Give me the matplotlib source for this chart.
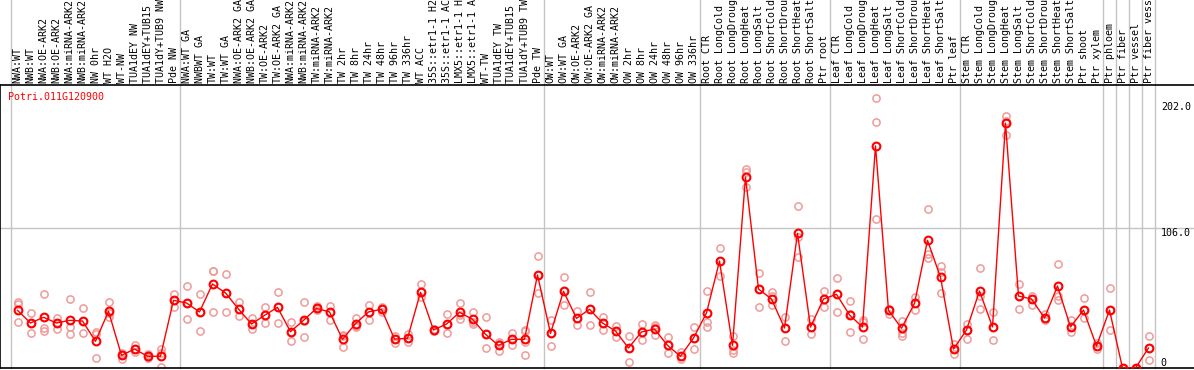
import matplotlib
matplotlib.use('Agg')
import matplotlib.pyplot as plt

gene = 'Potri.011G120900'

labels = ['NWA:WT', 'NWB:WT', 'NWA:OE-ARK2', 'NWB:OE-ARK2', 'NWA:miRNA-ARK2', 'NWB:miRNA-ARK2',
          'NW 0hr', 'WT H2O', 'WT-NW', 'TUA1dEY NW', 'TUA1dEY+TUB15 ', 'TUA1dY+TUB9 NW', 'Pde NW',
          'NWA:WT GA', 'NWBWT GA', 'TW:WT', 'TW:WT GA', 'NWA:OE-ARK2 GA', 'NWB:OE-ARK2 GA',
          'TW:OE-ARK2', 'TW:OE-ARK2 GA', 'NWA:miRNA-ARK2', 'NWB:miRNA-ARK2', 'TW:miRNA-ARK2',
          'TW:miRNA-ARK2', 'TW 2hr', 'TW 8hr', 'TW 24hr', 'TW 48hr', 'TW 96hr', 'TW 336hr', 'WT ACC',
          '35S::etr1-1 H2', '35S::etr1-1 AC', 'LMX5::etr1-1 H', 'LMX5::etr1-1 A', 'WT-TW',
          'TUA1dEY TW', 'TUA1dEY+TUB15 ', 'TUA1dY+TUB9 TW', 'Pde TW',
          'OW:WT', 'OW:WT GA', 'OW:OE-ARK2', 'OW:OE-ARK2 GA', 'OW:miRNA-ARK2', 'OW:miRNA-ARK2',
          'OW 2hr', 'OW 8hr', 'OW 24hr', 'OW 48hr', 'OW 96hr', 'OW 336hr',
          'Root CTR', 'Root LongCold', 'Root LongDroug', 'Root LongHeat', 'Root LongSalt',
          'Root ShortCold', 'Root ShortDrou', 'Root ShortHeat', 'Root ShortSalt', 'Ptr root',
          'Leaf CTR', 'Leaf LongCold', 'Leaf LongDroug', 'Leaf LongHeat', 'Leaf LongSalt',
          'Leaf ShortCold', 'Leaf ShortDrou', 'Leaf ShortHeat', 'Leaf ShortSalt', 'Ptr leaf',
          'Stem CTR', 'Stem LongCold', 'Stem LongDroug', 'Stem LongHeat', 'Stem LongSalt',
          'Stem ShortCold', 'Stem ShortDrou', 'Stem ShortHeat', 'Stem ShortSalt', 'Ptr shoot',
          'Ptr xylem', 'Ptr phloem', 'Ptr fiber', 'Ptr vessel', 'Ptr fiber vess']

means = [43.8, 34.2, 38.5, 34.2, 36.2, 35.7, 20.3, 43.1, 9.6, 14.4, 8.9, 8.9, 51.4,
         49.4, 42.6, 63.8, 57.0, 44.8, 33.4, 40.0, 46.1, 27.6, 36.2, 45.3, 42.6, 21.8, 33.7,
         42.6, 44.6, 22.0, 22.5, 57.5, 28.9, 33.4, 42.3, 37.0, 25.6, 17.2, 21.8, 21.8, 70.7,
         26.3, 58.3, 37.7, 44.6, 34.2, 28.1, 15.2, 27.4, 29.6, 17.2, 8.9, 22.8,
         41.8, 81.3, 17.2, 145.1, 60.0, 52.4, 30.4, 102.3, 31.1, 52.4,
         56.0, 40.3, 31.1, 168.7, 43.8, 30.2, 49.1, 97.0, 68.9, 14.4,
         28.9, 58.5, 31.2, 186.0, 54.7, 52.4, 38.0, 62.3, 31.2, 44.0, 16.7,
         44.0, 0.0, 0.0, 15.2]

reps = [[49.9, 48.4, 34.7], [41.5, 34.2, 26.8], [56.2, 30.2, 28.4], [38.2, 34.0, 29.9],
        [52.2, 30.9, 25.6], [45.4, 35.7, 26.6], [27.6, 26.0, 7.4], [49.9, 41.5, 38.5],
        [11.2, 9.6, 7.2], [17.2, 14.4, 12.1], [11.0, 8.4, 7.4], [14.2, 11.2, 0.5],
        [56.2, 51.4, 46.6],
        [62.3, 49.4, 37.0], [56.0, 42.6, 28.1], [73.7, 73.7, 42.6], [71.2, 57.0, 42.6],
        [50.1, 44.8, 39.2], [37.7, 33.4, 29.6], [46.3, 40.0, 34.5], [57.8, 46.1, 34.2],
        [35.0, 27.6, 20.3], [50.1, 36.0, 23.6], [47.0, 45.3, 44.0], [47.1, 42.6, 36.5],
        [25.1, 24.0, 15.7], [38.2, 31.9, 31.0], [47.9, 42.6, 36.2], [46.6, 44.6, 42.6],
        [24.6, 22.0, 18.8], [26.1, 22.5, 19.8], [63.8, 57.5, 54.2], [29.5, 28.9, 28.3],
        [40.8, 33.4, 26.3], [49.1, 40.0, 37.5], [42.6, 35.0, 33.4], [38.5, 25.6, 15.2],
        [20.0, 18.0, 13.2], [26.9, 21.8, 17.7], [28.9, 28.0, 20.0, 10.0], [85.1, 70.7, 56.8],
        [36.5, 26.3, 16.5], [68.9, 58.3, 47.6], [43.4, 37.7, 32.4], [57.5, 44.6, 32.4],
        [38.8, 34.2, 29.1], [32.2, 28.1, 23.8], [24.6, 15.2, 4.3], [33.4, 27.4, 21.3],
        [33.0, 31.0, 24.8], [23.3, 17.2, 11.2], [12.1, 8.9, 6.8], [30.9, 22.8, 14.4],
        [58.7, 34.7, 31.5], [90.9, 81.3, 69.9], [24.3, 14.0, 11.6], [151.0, 149.0, 137.3],
        [72.2, 60.0, 46.1], [57.7, 55.0, 48.1], [38.5, 30.4, 20.5], [123.1, 99.8, 84.6],
        [37.2, 31.1, 25.8], [58.7, 52.4, 46.6],
        [68.2, 56.0, 42.3], [50.9, 40.8, 27.4], [36.4, 34.8, 21.8], [204.9, 186.7, 113.0],
        [44.5, 43.8, 41.0], [36.0, 26.4, 24.3], [54.2, 49.1, 44.1], [120.6, 86.6, 83.3],
        [77.5, 73.0, 56.8], [18.0, 14.4, 10.6],
        [33.4, 28.9, 22.0], [76.0, 55.0, 45.0], [42.6, 31.2, 21.0], [191.5, 188.0, 177.0],
        [63.8, 54.7, 44.8], [54.7, 52.4, 47.9], [41.0, 38.0, 36.5], [79.0, 54.7, 51.7],
        [36.5, 31.2, 27.4], [53.2, 44.0, 38.0], [19.0, 16.7, 14.4],
        [60.8, 44.0, 29.0], [0.0, 0.0, 0.0], [0.0, 0.0, 0.0], [24.3, 15.2, 6.0]]

group_sizes = [13, 28, 12, 10, 10, 11, 1, 1, 1, 1]
scale_vals = [202.0, 106.0, 0]
scale_text = ['202.0', '106.0', '0']

mono = 'DejaVu Sans Mono'
grey = '#c4c4c4'

fig = plt.figure(figsize=(11.94, 3.70), dpi=100)
ax = fig.add_axes([0, 2 / 370, 1, 283 / 370])
ax.set_xlim(-17.5 / 13, (1194 - 17.5) / 13)
ax.set_ylim(0, 215)

# group separators run up through the label strip
edge = -0.5
ax.axvline(edge, ymin=0, ymax=1.31, color=grey, lw=1, clip_on=False, zorder=1)
for n in group_sizes:
    edge += n
    ax.axvline(edge, ymin=0, ymax=1.31, color=grey, lw=1, clip_on=False, zorder=1)

ax.axhline(106.0, color=grey, lw=1, zorder=1)

xs = list(range(len(labels)))
for i, r in enumerate(reps):
    ax.plot([i] * len(r), r, 'o', mfc='none', mec='#f09a9a', ms=5.2, mew=1.1, zorder=2)
ax.plot(xs, means, '-', color='red', lw=1, zorder=3)
ax.plot(xs, means, 'o', mfc='none', mec='red', ms=5.6, mew=1.5, zorder=4)

ax.xaxis.tick_top()
ax.set_xticks(xs)
ax.set_xticklabels(labels, rotation=90, fontsize=7.2, family=mono)
ax.tick_params(axis='x', length=0, pad=1.5)
ax.set_yticks([])

for v, t in zip(scale_vals, scale_text):
    ax.text(87.95, v, t, fontsize=7.2, family=mono, ha='left',
            va='bottom' if v == 0 else 'top')

for s in ['top', 'bottom', 'left']:
    ax.spines[s].set_color('black')
    ax.spines[s].set_linewidth(1.2)
ax.spines['right'].set_visible(False)

fig.text(8 / 1194, 1 - 97 / 370, gene, color='red', fontsize=7.2, family=mono, va='center')

fig.savefig('out.png', dpi=100)
